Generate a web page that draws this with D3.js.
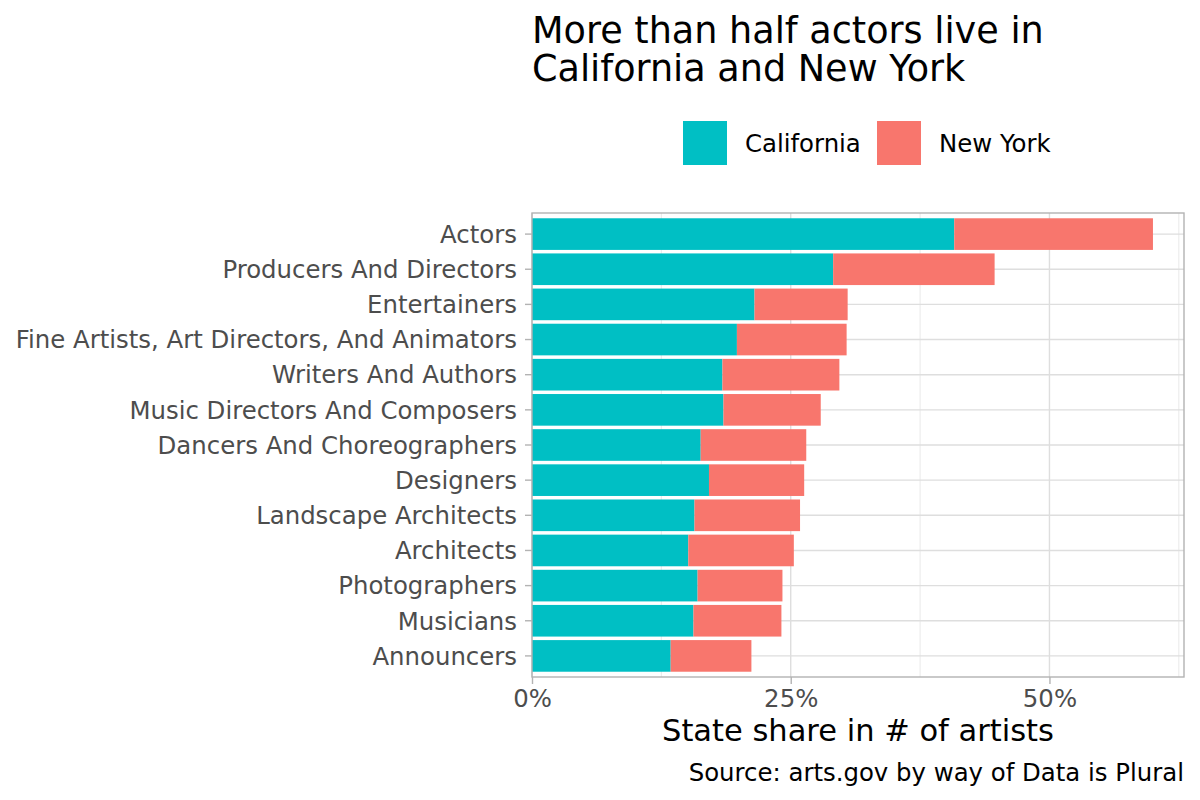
<!DOCTYPE html>
<html>
<head>
<meta charset="utf-8">
<script src="https://cdn.jsdelivr.net/npm/d3@7"></script>
<style>
  body { margin: 0; background: #fff; }
  text { font-family: "DejaVu Sans", sans-serif; }
</style>
</head>
<body>
<svg id="canvas" width="1200" height="800"></svg>
<script>
'use strict';

var categories = [
  'Actors',
  'Producers And Directors',
  'Entertainers',
  'Fine Artists, Art Directors, And Animators',
  'Writers And Authors',
  'Music Directors And Composers',
  'Dancers And Choreographers',
  'Designers',
  'Landscape Architects',
  'Architects',
  'Photographers',
  'Musicians',
  'Announcers'
];
var california = [40.8, 29.1, 21.5, 19.8, 18.4, 18.5, 16.3, 17.1, 15.7, 15.1, 16.0, 15.6, 13.4];
var newYork = [19.2, 15.6, 9.0, 10.6, 11.3, 9.4, 10.2, 9.2, 10.2, 10.2, 8.2, 8.5, 7.8];
var states = ['California', 'New York'];
var stateColors = ['#00BFC4', '#F8766D'];
var majorTicks = [0, 25, 50];
var minorTicks = [12.5, 37.5, 62.5];
var titleLines = ['More than half actors live in', 'California and New York'];

function RenderChart() {
  var svg = d3.select('#canvas');
  var left = 532, right = 1184, top = 213, bottom = 677;

  var rows = categories.map(function(name, i) {
    return { name: name, ca: california[i], ny: newYork[i] };
  });
  var maxTotal = d3.max(rows, function(r) { return r.ca + r.ny; });

  var x = d3.scaleLinear()
      .domain([0, maxTotal * 1.05])
      .range([left, right]);
  var y = d3.scaleBand()
      .domain(categories)
      .range([top, bottom])
      .paddingInner(0.1)
      .paddingOuter(0.15);
  var color = d3.scaleOrdinal().domain(states).range(stateColors);

  // grid
  var grid = svg.append('g');
  grid.selectAll('.minor')
      .data(minorTicks.filter(function(t) { return t <= x.domain()[1]; }))
    .enter().append('line')
      .attr('x1', x).attr('x2', x)
      .attr('y1', top).attr('y2', bottom)
      .attr('stroke', '#E0E0E0')
      .attr('stroke-width', 0.7);
  grid.selectAll('.major')
      .data(majorTicks)
    .enter().append('line')
      .attr('x1', x).attr('x2', x)
      .attr('y1', top).attr('y2', bottom)
      .attr('stroke', '#DEDEDE')
      .attr('stroke-width', 1.4);
  grid.selectAll('.hline')
      .data(categories)
    .enter().append('line')
      .attr('x1', left).attr('x2', right)
      .attr('y1', function(d) { return y(d) + y.bandwidth() / 2; })
      .attr('y2', function(d) { return y(d) + y.bandwidth() / 2; })
      .attr('stroke', '#DEDEDE')
      .attr('stroke-width', 1.4);

  // bars
  var bar = svg.append('g').selectAll('g')
      .data(rows)
    .enter().append('g');
  bar.append('rect')
      .attr('x', x(0))
      .attr('y', function(r) { return y(r.name); })
      .attr('width', function(r) { return x(r.ca) - x(0); })
      .attr('height', y.bandwidth())
      .attr('fill', color('California'));
  bar.append('rect')
      .attr('x', function(r) { return x(r.ca); })
      .attr('y', function(r) { return y(r.name); })
      .attr('width', function(r) { return x(r.ca + r.ny) - x(r.ca); })
      .attr('height', y.bandwidth())
      .attr('fill', color('New York'));

  // panel border
  svg.append('rect')
      .attr('x', left).attr('y', top)
      .attr('width', right - left).attr('height', bottom - top)
      .attr('fill', 'none')
      .attr('stroke', '#B3B3B3')
      .attr('stroke-width', 1.4);

  // axes
  var xAxis = svg.append('g')
      .attr('transform', 'translate(0,' + bottom + ')')
      .call(d3.axisBottom(x)
        .tickValues(majorTicks)
        .tickFormat(function(d) { return d + '%'; })
        .tickSize(7)
        .tickPadding(6));
  var yAxis = svg.append('g')
      .attr('transform', 'translate(' + left + ',0)')
      .call(d3.axisLeft(y).tickSize(7).tickPadding(8));
  [xAxis, yAxis].forEach(function(ax) {
    ax.select('.domain').remove();
    ax.selectAll('.tick line').attr('stroke', '#B3B3B3').attr('stroke-width', 1.4);
    ax.selectAll('.tick text')
        .attr('fill', '#4D4D4D')
        .style('font-family', '"DejaVu Sans", sans-serif')
        .style('font-size', '24.4px');
  });
  yAxis.selectAll('.tick text').attr('dy', '0.36em');

  // title, two lines in one text
  svg.append('text')
      .attr('font-size', 36.6)
    .selectAll('tspan')
      .data(titleLines)
    .enter().append('tspan')
      .attr('x', left)
      .attr('y', function(d, i) { return 43 + i * 38; })
      .text(function(d) { return d; });

  // legend
  var legendX = [683, 877];
  var legend = svg.append('g').selectAll('g')
      .data(states)
    .enter().append('g')
      .attr('transform', function(d, i) { return 'translate(' + legendX[i] + ',121)'; });
  legend.append('rect')
      .attr('width', 44).attr('height', 44)
      .attr('fill', color);
  legend.append('text')
      .attr('x', 62).attr('y', 22)
      .attr('dy', '0.36em')
      .attr('font-size', 24.4)
      .text(function(d) { return d; });

  // axis title and caption
  svg.append('text')
      .attr('x', (left + right) / 2).attr('y', 741)
      .attr('text-anchor', 'middle')
      .attr('font-size', 30.5)
      .text('State share in # of artists');
  svg.append('text')
      .attr('x', right).attr('y', 781)
      .attr('text-anchor', 'end')
      .attr('font-size', 24.4)
      .text('Source: arts.gov by way of Data is Plural');
}

RenderChart();
</script>
</body>
</html>
